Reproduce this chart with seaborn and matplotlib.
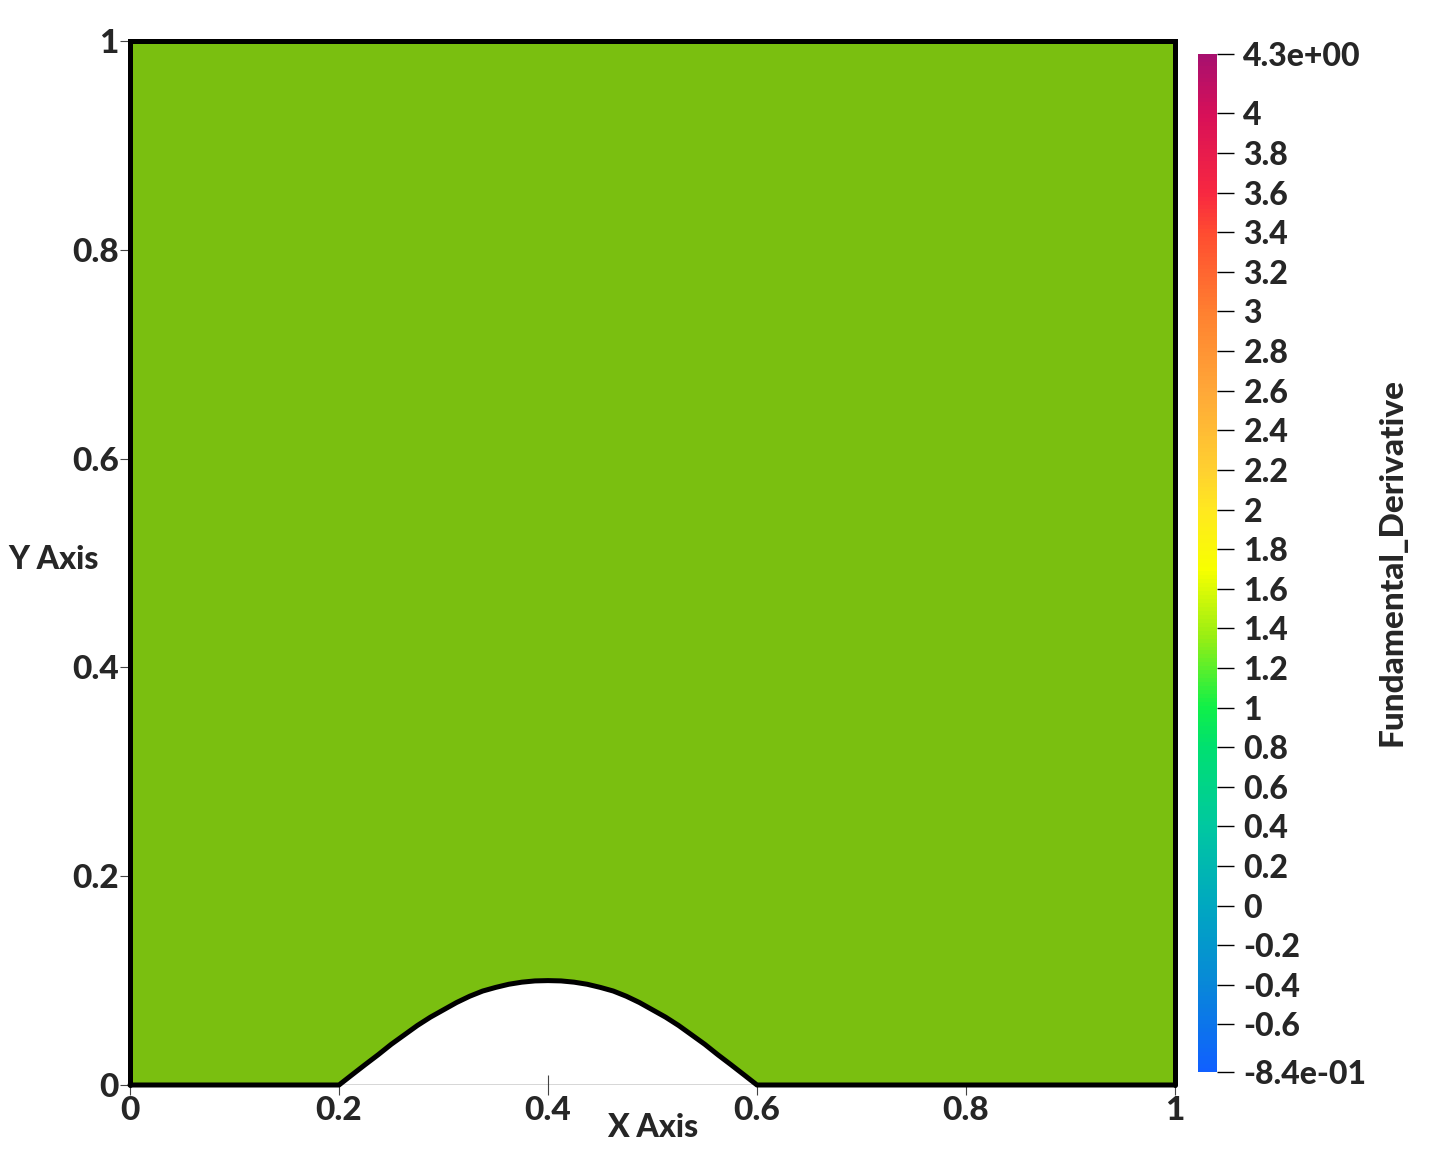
import matplotlib
matplotlib.use("Agg")
import matplotlib.pyplot as plt
import seaborn as sns
import pandas as pd
from matplotlib.colors import LinearSegmentedColormap, Normalize, to_rgb

# bump on the lower wall
bump_x = [0.2, 0.2125, 0.225, 0.2375, 0.25, 0.2625, 0.275, 0.2875, 0.3, 0.3125, 0.325,
          0.3375, 0.35, 0.3625, 0.375, 0.3875, 0.4, 0.4125, 0.425, 0.4375, 0.45, 0.4625,
          0.475, 0.4875, 0.5, 0.5125, 0.525, 0.5375, 0.55, 0.5625, 0.575, 0.5875, 0.6]
bump_y = [0.0, 0.0098, 0.0195, 0.029, 0.039, 0.048, 0.057, 0.065, 0.072, 0.079, 0.085,
          0.090, 0.0935, 0.0965, 0.0985, 0.0997, 0.1, 0.0997, 0.0985, 0.0965, 0.0935, 0.090,
          0.085, 0.079, 0.072, 0.065, 0.057, 0.048, 0.039, 0.029, 0.0195, 0.0098, 0.0]

# field value (uniform over the domain)
field_value = 1.35
field_name = "Fundamental_Derivative"
vmin, vmax = -0.84, 4.3

# colour map nodes (value, colour)
cmap_values = [-0.84, -0.4, 0.0, 0.4, 0.8, 1.0, 1.35, 1.7, 2.0, 2.2, 2.6, 3.0, 3.4, 3.6, 4.0, 4.3]
cmap_colors = ["#1060FF", "#0888D8", "#00A8C0", "#00C8A0", "#00E070", "#10F048",
               "#96EE14", "#F8FF00", "#FFE820", "#FFD030", "#FFA838", "#FF8030",
               "#FF4C30", "#F82840", "#D81058", "#A8106E"]

axis_ticks = [0, 0.2, 0.4, 0.6, 0.8, 1]
axis_labels = ["0", "0.2", "0.4", "0.6", "0.8", "1"]
cbar_ticks = [4.3, 4, 3.8, 3.6, 3.4, 3.2, 3, 2.8, 2.6, 2.4, 2.2, 2, 1.8, 1.6, 1.4, 1.2,
              1, 0.8, 0.6, 0.4, 0.2, 0, -0.2, -0.4, -0.6, -0.84]
cbar_labels = ["4.3e+00", "4", "3.8", "3.6", "3.4", "3.2", "3", "2.8", "2.6", "2.4", "2.2",
               "2", "1.8", "1.6", "1.4", "1.2", "1", "0.8", "0.6", "0.4", "0.2", "0",
               "-0.2", "-0.4", "-0.6", "-8.4e-01"]

sns.set_style("white")
plt.rcParams["font.family"] = ["Lato", "DejaVu Sans"]
W = 900  # heavy weight, the reference font is very bold

fig = plt.figure(figsize=(14.29, 11.61), dpi=100)
ax = fig.add_axes([130 / 1429, 76 / 1161, 1045 / 1429, 1044 / 1161])
cax = fig.add_axes([1198 / 1429, 89 / 1161, 19 / 1429, 1018 / 1161])

pos = [(v - vmin) / (vmax - vmin) for v in cmap_values]
cmap = LinearSegmentedColormap.from_list("pv", list(zip(pos, cmap_colors)))
norm = Normalize(vmin, vmax)

# lower wall: flat - bump - flat
wall_x = [0.0] + bump_x + [1.0]
wall_y = [0.0] + bump_y + [0.0]

# surface colour with a bit of shading, like the 3D render
shade = 0.8
fill = tuple(c * shade for c in to_rgb(cmap(norm(field_value))))
ax.fill_between(wall_x, wall_y, 1.0, color=fill, linewidth=0, zorder=1)

# thin axis lines
ax.plot([0, 1], [0, 0], color="#333333", lw=1.0, zorder=2)

# domain outline
wall = pd.DataFrame({"x": wall_x, "y": wall_y})
sns.lineplot(data=wall, x="x", y="y", sort=False, color="black", lw=3.6, ax=ax,
             zorder=3, clip_on=False, solid_joinstyle="round")
ax.plot([0, 0, 1, 1], [0, 1, 1, 0], color="black", lw=3.6, zorder=3,
        solid_joinstyle="miter", clip_on=False)

ax.set_xlim(0, 1)
ax.set_ylim(0, 1)
for s in ax.spines.values():
    s.set_visible(False)
ax.set_xticks(axis_ticks)
ax.set_xticklabels(axis_labels)
ax.set_yticks(axis_ticks)
ax.set_yticklabels(axis_labels)
ax.tick_params(direction="inout", length=14, width=0.8, color="#444444",
               labelsize=24, pad=1, bottom=True, left=True)
for lab in ax.get_xticklabels() + ax.get_yticklabels():
    lab.set_fontweight(W)

ax.set_xlabel("X Axis", fontsize=23, fontweight=W, va="center")
ax.xaxis.set_label_coords(0.5005, -0.041)
ax.set_ylabel("Y Axis", fontsize=23, fontweight=W, rotation=0, va="center", ha="center")
ax.yaxis.set_label_coords(-0.0727, 0.503)

# colour bar
sm = plt.cm.ScalarMappable(norm=norm, cmap=cmap)
cbar = fig.colorbar(sm, cax=cax)
cbar.outline.set_visible(False)
cbar.set_ticks(cbar_ticks)
cbar.set_ticklabels(cbar_labels)
cax.tick_params(direction="out", length=12, width=1.0, color="black", labelsize=23, pad=7)
for lab in cax.get_yticklabels():
    lab.set_fontweight(W)

fig.text(1392 / 1429, 1 - 562 / 1161, field_name, rotation=90, fontsize=24,
         fontweight=W, ha="center", va="center")

fig.savefig("out.png", dpi=100)
